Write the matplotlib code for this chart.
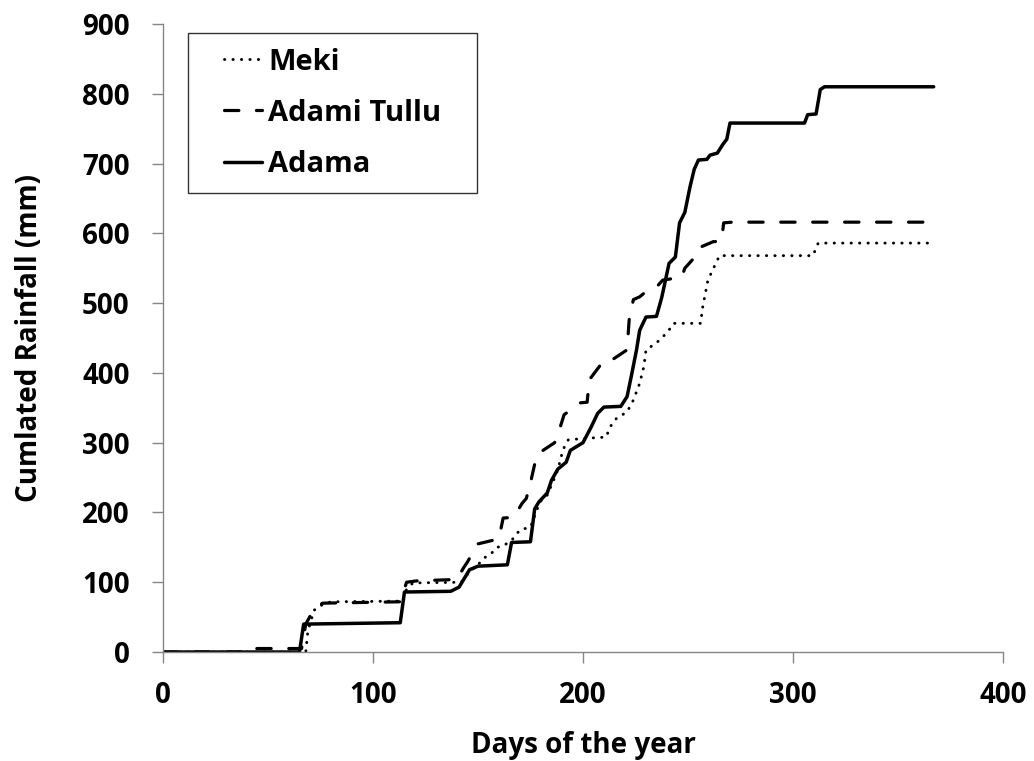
import matplotlib
matplotlib.use("Agg")
import matplotlib.pyplot as plt
from matplotlib.lines import Line2D
from matplotlib.legend_handler import HandlerLine2D

plt.rcParams['font.family'] = ['Open Sans', 'DejaVu Sans']
plt.rcParams['font.weight'] = 'bold'

# --- Données ---
meki_jours = [0, 68, 69, 72, 76, 80, 114, 116, 119, 142, 146, 150, 153, 156, 159, 162, 166,
              170, 175, 177, 179.5, 183, 186, 188, 190.5, 193, 200, 211, 213, 216, 221, 224,
              227, 229, 230, 235, 240.5, 243, 256, 257, 259.5, 265, 309.5, 312, 367]
meki_mm = [0, 0, 30, 60, 68, 72, 73, 90, 99, 100, 115, 125, 135, 140, 150, 152, 160,
           175, 179, 195, 215, 225, 246, 261, 290, 304, 306, 308, 323, 335, 344, 361,
           385, 409, 433, 443, 459, 471, 471, 494, 533, 568, 568, 586, 586]

adami_jours = [0, 41, 42, 66, 68, 72, 76, 113, 116, 121, 140, 143, 145, 148, 150, 157, 160,
               162, 167, 171, 173, 175, 176, 178, 180, 186.5, 188, 191, 198.5, 202, 203, 210,
               214, 221, 222, 224, 227, 229, 235, 238, 247, 248.5, 253, 255, 262, 266, 267,
               271, 367]
adami_mm = [0, 0, 5, 5, 40, 62, 70, 72, 100, 102, 104, 120, 129, 145, 155, 160, 163,
            192, 193, 213, 220, 242, 256, 282, 287, 300, 311, 340, 357, 358, 390, 418,
            419, 433, 476, 505, 509, 514, 523, 533, 537, 550, 565, 579, 588, 589, 615,
            616, 616]

adama_jours = [0, 65, 67, 113, 115, 137, 141, 146, 150, 164, 166, 175, 177, 179, 183, 185,
               188, 192, 194, 200, 204, 207, 210, 218, 221, 223, 225.5, 227, 230, 235, 237.5,
               241, 244, 246, 248.5, 251, 253, 255, 259, 260.5, 264, 266.5, 268.5, 270,
               305.5, 307, 311, 313, 315, 367]
adama_mm = [0, 0, 40, 42, 86, 87, 93, 118, 123, 125, 157, 158, 205, 215, 228, 246,
            262, 272, 289, 300, 323, 342, 351, 352, 366, 395, 433, 461, 480, 481, 508,
            557, 566, 615, 630, 667, 692, 705, 706, 712, 715, 727, 735, 758,
            758, 770, 771, 806, 810, 810]

# --- Tracé ---
fig = plt.figure(figsize=(10.34, 7.61), dpi=100)
ax = fig.add_axes([0.1576, 0.1432, 0.8124, 0.8253])

ax.plot(meki_jours, meki_mm, color='black', lw=2.1, linestyle=(0, (0.1, 2.8)),
        dash_capstyle='round', label='Meki')
ax.plot(adami_jours, adami_mm, color='black', lw=2.3, linestyle=(0, (4.5, 5.5)),
        dash_capstyle='round', label='Adami Tullu')
ax.plot(adama_jours, adama_mm, color='black', lw=2.5, solid_capstyle='round',
        solid_joinstyle='round', label='Adama')

# Mise en forme
ax.set_xlim(0, 400)
ax.set_ylim(0, 900)
ax.set_xticks(range(0, 401, 100))
ax.set_yticks(range(0, 901, 100))
for s in ['top', 'right']:
    ax.spines[s].set_visible(False)
for s in ['left', 'bottom']:
    ax.spines[s].set_color('#868686')
    ax.spines[s].set_linewidth(1)
ax.tick_params(direction='out', length=8, width=1, color='#868686', labelsize=20)
ax.tick_params(axis='y', pad=16)
ax.tick_params(axis='x', pad=13)
for lab in ax.get_xticklabels() + ax.get_yticklabels():
    lab.set_fontweight('bold')

fig.text(583 / 1034, 1 - 745 / 761, "Days of the year", fontsize=20, fontweight='bold',
         ha='center', va='center')
fig.text(30 / 1034, 1 - 338 / 761, "Cumlated Rainfall (mm)", fontsize=20, fontweight='bold',
         ha='center', va='center', rotation=90)

# légende : marge à gauche via xpad, cadre étiré jusqu'à la largeur voulue
leg = ax.legend(loc='upper left', bbox_to_anchor=(0.0298, 0.9757, 0.344, 0.01),
                mode='expand', borderaxespad=0,
                fancybox=False, edgecolor='black', handlelength=2.05, handletextpad=0.2,
                labelspacing=0.76, borderpad=0.5, prop={'size': 21, 'weight': 'bold'},
                handler_map={Line2D: HandlerLine2D(xpad=0.75)})
leg.get_frame().set_linewidth(1)

fig.savefig("out.png", dpi=100)
